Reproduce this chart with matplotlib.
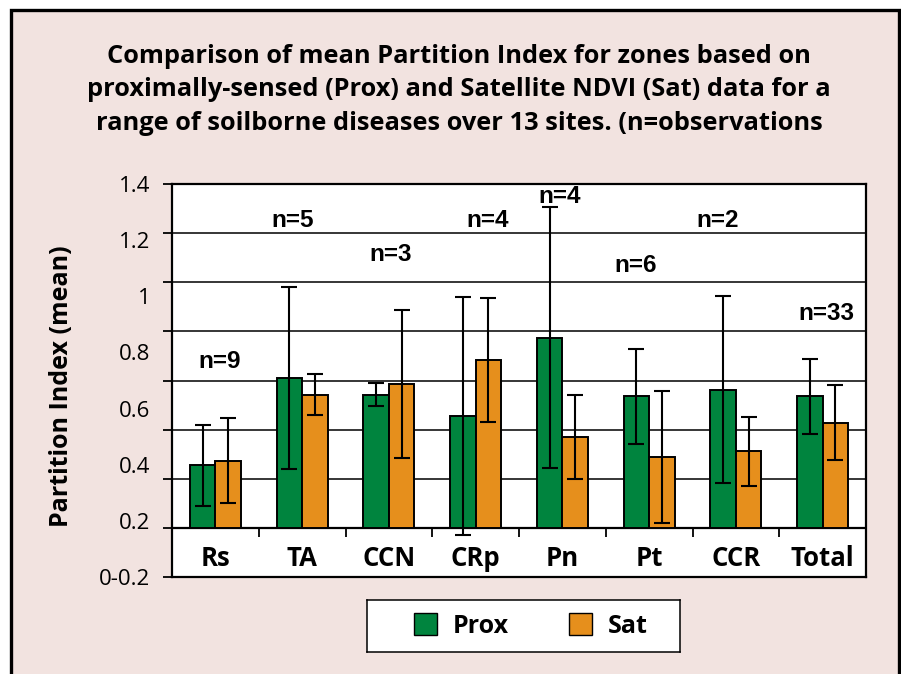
import numpy as np
import matplotlib
matplotlib.use("Agg")
import matplotlib.pyplot as plt
from matplotlib.patches import Rectangle, Patch

# ---------------- data ----------------
categories = ["Rs", "TA", "CCN", "CRp", "Pn", "Pt", "CCR", "Total"]
prox_mean = [0.254, 0.610, 0.542, 0.454, 0.775, 0.535, 0.562, 0.535]
prox_err = [0.165, 0.372, 0.047, 0.485, 0.533, 0.195, 0.381, 0.153]
sat_mean = [0.273, 0.542, 0.585, 0.684, 0.371, 0.289, 0.311, 0.428]
sat_err = [0.173, 0.083, 0.300, 0.252, 0.172, 0.270, 0.140, 0.153]
n_labels = ["n=9", "n=5", "n=3", "n=4", "n=4", "n=6", "n=2", "n=33"]
n_x = [0.05, 0.89, 2.02, 3.14, 3.97, 4.84, 5.79, 7.04]
n_y = [0.676, 1.25, 1.115, 1.252, 1.35, 1.067, 1.252, 0.872]
ytick_labels = ["1.4", "1.2", "1", "0.8", "0.6", "0.4", "0.2", "0-0.2"]
series_names = ["Prox", "Sat"]
title = ("Comparison of mean Partition Index for zones based on\n"
         "proximally-sensed (Prox) and Satellite NDVI (Sat) data for a\n"
         "range of soilborne diseases over 13 sites. (n=observations")
ylabel = "Partition Index (mean)"

GREEN = "#00843e"
ORANGE = "#e68f1c"
PINK = "#f2e3e0"

W, H = 901, 674
fig = plt.figure(figsize=(W / 100, H / 100), dpi=100, facecolor="white")

# background panel with black border (bottom edge off-image)
fig.patches.append(Rectangle((11 / W, -0.05), (899 - 11) / W, 1 - 9.5 / H + 0.05,
                             transform=fig.transFigure, facecolor=PINK,
                             edgecolor="black", linewidth=2.4, zorder=-10))

ax = fig.add_axes([172 / W, 1 - 577 / H, (866 - 172) / W, (577 - 184) / H])
ax.set_facecolor("white")

x = np.arange(len(categories))
bw = 0.295
ekw = dict(ecolor="black", elinewidth=1.5, capsize=5.8, capthick=1.5)
ax.bar(x - bw / 2, prox_mean, bw, color=GREEN, edgecolor="black", linewidth=1.4,
       yerr=prox_err, error_kw=ekw, zorder=3, label=series_names[0])
ax.bar(x + bw / 2, sat_mean, bw, color=ORANGE, edgecolor="black", linewidth=1.4,
       yerr=sat_err, error_kw=ekw, zorder=3, label=series_names[1])

ax.set_xlim(-0.5, len(categories) - 0.5)
ax.set_ylim(-0.2, 1.4)
ax.set_yticks(np.round(np.arange(-0.2, 1.41, 0.2), 2))
ax.tick_params(axis="y", direction="out", length=6.5, width=1.3, labelleft=False)
ax.set_xticks([])
ax.yaxis.grid(True, color="black", linewidth=1.1)
ax.set_axisbelow(True)
ax.axhline(0, color="black", linewidth=1.6, zorder=2)
for s in ax.spines.values():
    s.set_color("black")
    s.set_linewidth(1.6)

# category boundary ticks below the zero line
bounds = np.arange(len(categories) + 1) - 0.5
ax.vlines(bounds, -0.037, 0, color="black", linewidth=1.3, zorder=4, clip_on=False)

# category labels inside the plot band
for xi, c in zip(x, categories):
    ax.text(xi, -0.126, c, ha="center", va="center", fontsize=18.5,
            fontweight="bold", family="Open Sans")

# n labels
for xi, yi, t in zip(n_x, n_y, n_labels):
    ax.text(xi, yi, t, ha="center", va="center", fontsize=17.5,
            fontweight="bold", family="Liberation Sans", zorder=5)

# y tick labels (as printed, evenly spread)
sec = ax.secondary_yaxis("left")
sec.set_yticks(np.linspace(1.4, -0.2, len(ytick_labels)), labels=ytick_labels)
sec.tick_params(length=0, pad=15.5, labelsize=16)
for lab in sec.get_yticklabels():
    lab.set_family("Open Sans")
sec.spines["left"].set_visible(False)

fig.text(0.0688, 1 - 386.5 / H, ylabel, rotation=90, ha="center", va="center",
         fontsize=18, fontweight="bold", family="Open Sans")

fig.text(459 / W, 1 - 90 / H, title, ha="center", va="center", fontsize=18.3,
         fontweight="bold", family="Open Sans", linespacing=1.43)

# legend box
lax = fig.add_axes([367 / W, 1 - 652 / H, 313 / W, 52 / H])
lax.set_facecolor("white")
lax.set_xticks([])
lax.set_yticks([])
for s in lax.spines.values():
    s.set_color("black")
    s.set_linewidth(1.1)
handles = [Patch(facecolor=GREEN, edgecolor="black", linewidth=1.0),
           Patch(facecolor=ORANGE, edgecolor="black", linewidth=1.0)]
lax.legend(handles, series_names, loc="center", bbox_to_anchor=(0.5 + 7 / 313, 0.5),
           ncol=2, frameon=False, prop=dict(family="Open Sans", weight="bold", size=18),
           handlelength=0.92, handleheight=0.92, handletextpad=0.64,
           columnspacing=2.4)

fig.savefig("out.png", dpi=100, facecolor=fig.get_facecolor())
